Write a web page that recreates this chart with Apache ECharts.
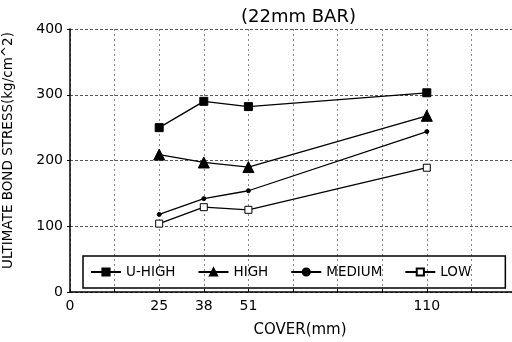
<!DOCTYPE html>
<html>
<head>
<meta charset="utf-8">
<script src="https://cdn.jsdelivr.net/npm/echarts@6/dist/echarts.min.js"></script>
<style>
  html, body { margin: 0; padding: 0; background: #fff; }
  #chart { width: 512px; height: 342px; }
</style>
</head>
<body>
<div id="chart"></div>
<script>
// cover positions (evenly spaced slots, only some labelled)
var coverTicks = ['0', '', '25', '38', '51', '', '', '', '110', '', ''];
var uHigh  = [null, null, 250, 290, 282, null, null, null, 303, null, null];
var high   = [null, null, 209, 197, 190, null, null, null, 268, null, null];
var medium = [null, null, 118, 142, 154, null, null, null, 244, null, null];
var low    = [null, null, 104, 129, 125, null, null, null, 189, null, null];
var yTicks = [0, 100, 200, 300, 400];

var chart = echarts.init(document.getElementById('chart'), null, { renderer: 'canvas' });
var font = 'DejaVu Sans, sans-serif';

function line(name, data, symbol, size, fill) {
    return {
        name: name, type: 'line', data: data, connectNulls: true,
        symbol: symbol, symbolSize: size,
        lineStyle: { color: '#000', width: 1.3 },
        itemStyle: { color: fill, borderColor: '#000', borderWidth: 1 },
        emphasis: { disabled: true },
        animation: false
    };
}

var option = {
    backgroundColor: '#fff',
    textStyle: { fontFamily: font, color: '#000' },
    title: {
        text: '(22mm BAR)', left: 236, top: 3,
        textStyle: { fontFamily: font, fontSize: 18, fontWeight: 'normal', color: '#000' }
    },
    legend: {
        left: 83, top: 256, width: 425,
        padding: [9, 34, 9, 7],
        itemGap: 22, itemWidth: 30, itemHeight: 9,
        borderColor: '#000', borderWidth: 1.5,
        textStyle: { fontFamily: font, fontSize: 13.5, color: '#000' },
        data: ['U-HIGH', 'HIGH', 'MEDIUM', 'LOW']
    },
    grid: { left: 70, top: 29, bottom: 50, right: -4, outerBoundsMode: 'none', containLabel: false },
    xAxis: {
        type: 'category', data: coverTicks, boundaryGap: false,
        name: 'COVER(mm)', nameLocation: 'middle', nameGap: 31,
        nameTextStyle: { fontFamily: font, fontSize: 15, color: '#000', padding: [0, 0, 0, 14] },
        axisLine: { lineStyle: { color: '#000', width: 1.5 } },
        axisTick: { show: true, interval: 0, length: 3, inside: true, lineStyle: { color: '#000' } },
        axisLabel: { interval: 0, fontFamily: font, fontSize: 14, color: '#000', margin: 7 },
        splitLine: { show: true, interval: 0, lineStyle: { color: '#888', type: [2, 3], width: 1 } }
    },
    yAxis: {
        type: 'value', min: yTicks[0], max: yTicks[yTicks.length - 1], interval: 100,
        name: 'ULTIMATE BOND STRESS(kg/cm^2)', nameLocation: 'middle', nameGap: 55, nameRotate: 90,
        nameTextStyle: { fontFamily: font, fontSize: 13.5, color: '#000', padding: [0, 0, 0, 20] },
        axisLine: { show: true, lineStyle: { color: '#000', width: 1.5 } },
        axisTick: { show: true, length: 3, lineStyle: { color: '#000' } },
        axisLabel: { fontFamily: font, fontSize: 14, color: '#000', margin: 7 },
        splitLine: { show: true, lineStyle: { color: '#555', type: [3, 2], width: 1 } }
    },
    series: [
        line('U-HIGH', uHigh, 'rect', 8, '#000'),
        line('HIGH', high, 'triangle', 11, '#000'),
        line('MEDIUM', medium, 'circle', 4, '#000'),
        line('LOW', low, 'rect', 7, '#fff')
    ]
};

chart.setOption(option);
</script>
</body>
</html>
